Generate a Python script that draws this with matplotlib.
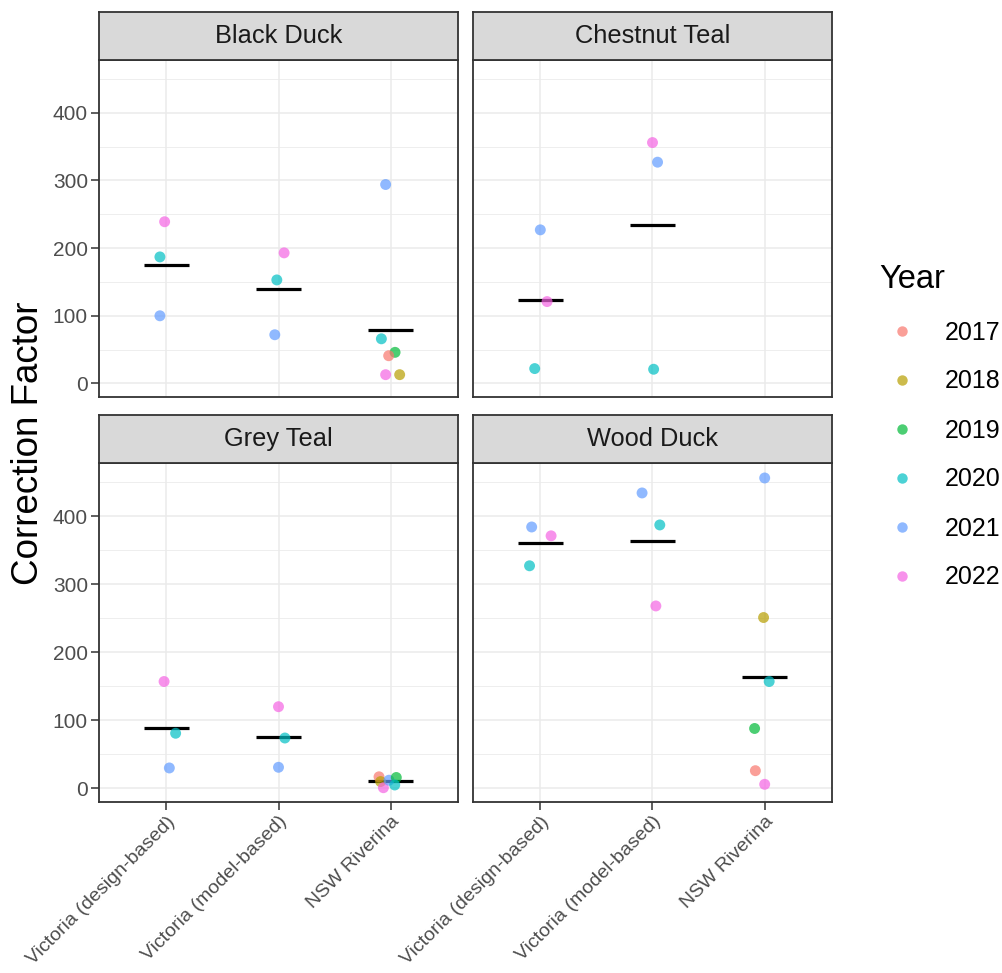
import numpy as np
import matplotlib.pyplot as plt
from matplotlib.lines import Line2D

plt.rcParams['font.family'] = ['Liberation Sans', 'DejaVu Sans']

species = ['Black Duck', 'Chestnut Teal', 'Grey Teal', 'Wood Duck']
regions = ['Victoria (design-based)', 'Victoria (model-based)', 'NSW Riverina']
years = [2017, 2018, 2019, 2020, 2021, 2022]
year_colours = ['#F8766D', '#B79F00', '#00BA38', '#00BFC4', '#619CFF', '#F564E3']

# region index (0,1,2), survey year, correction factor and jitter
black_duck_region = [0, 0, 0, 1, 1, 1, 2, 2, 2, 2, 2, 2]
black_duck_year = [2022, 2020, 2021, 2022, 2020, 2021, 2021, 2020, 2019, 2017, 2022, 2018]
black_duck_value = [239, 187, 100, 193, 153, 72, 294, 66, 46, 41, 13, 13]
black_duck_jitter = [-0.015, -0.057, -0.057, 0.05, -0.015, -0.033, -0.045, -0.083, 0.039, -0.018, -0.045, 0.08]

chestnut_teal_region = [0, 0, 0, 1, 1, 1]
chestnut_teal_year = [2021, 2022, 2020, 2022, 2021, 2020]
chestnut_teal_value = [227, 121, 22, 356, 327, 21]
chestnut_teal_jitter = [0.0, 0.06, -0.05, 0.0, 0.045, 0.01]

grey_teal_region = [0, 0, 0, 1, 1, 1, 2, 2, 2, 2, 2, 2]
grey_teal_year = [2022, 2020, 2021, 2022, 2020, 2021, 2017, 2018, 2022, 2021, 2019, 2020]
grey_teal_value = [157, 81, 30, 120, 74, 31, 17, 10, 1, 12, 16, 5]
grey_teal_jitter = [-0.02, 0.083, 0.027, 0.0, 0.057, 0.0, -0.104, -0.09, -0.065, -0.015, 0.05, 0.036]

wood_duck_region = [0, 0, 0, 1, 1, 1, 2, 2, 2, 2, 2, 2]
wood_duck_year = [2021, 2022, 2020, 2021, 2020, 2022, 2021, 2018, 2020, 2019, 2017, 2022]
wood_duck_value = [384, 371, 327, 434, 387, 268, 456, 251, 157, 88, 26, 6]
wood_duck_jitter = [-0.077, 0.096, -0.096, -0.093, 0.065, 0.03, 0.0, -0.01, 0.04, -0.09, -0.083, 0.0]

panels = [
    (black_duck_region, black_duck_year, black_duck_value, black_duck_jitter),
    (chestnut_teal_region, chestnut_teal_year, chestnut_teal_value, chestnut_teal_jitter),
    (grey_teal_region, grey_teal_year, grey_teal_value, grey_teal_jitter),
    (wood_duck_region, wood_duck_year, wood_duck_value, wood_duck_jitter),
]

W, H = 1003, 973
fig = plt.figure(figsize=(W / 100, H / 100), dpi=100)

panel_left = [99, 473]
panel_w = 359
panel_top = [60, 463]
panel_h = [337, 339]
strip_h = 48
edge = '#333333'
colour_of = dict(zip(years, year_colours))

for i, name in enumerate(species):
    col, row = i % 2, i // 2
    x0, top, h = panel_left[col], panel_top[row], panel_h[row]
    ax = fig.add_axes([x0 / W, 1 - (top + h) / H, panel_w / W, h / H])
    reg, yr, val, jit = panels[i]
    reg = np.array(reg)
    val = np.array(val, dtype=float)

    ax.scatter(reg + 1 + np.array(jit), val, c=[colour_of[y] for y in yr],
               s=62, alpha=0.7, edgecolors='none', zorder=4)
    for r in np.unique(reg):
        m = val[reg == r].mean()
        ax.hlines(m, r + 1 - 0.2, r + 1 + 0.2, color='black', lw=2.3, zorder=3)

    ax.set_xlim(0.4, 3.6)
    ax.set_ylim(-20, 478)
    ax.set_xticks([1, 2, 3])
    ax.set_yticks([0, 100, 200, 300, 400])
    ax.set_yticks([50, 150, 250, 350, 450], minor=True)
    ax.grid(which='major', color='#EBEBEB', lw=1.1, zorder=0)
    ax.grid(which='minor', axis='y', color='#EBEBEB', lw=0.6, zorder=0)
    ax.set_axisbelow(True)
    ax.tick_params(which='major', length=5.5, width=1.1, color=edge,
                   labelsize=15, labelcolor='#4D4D4D', pad=2.5)
    ax.tick_params(which='minor', length=0)
    for s in ax.spines.values():
        s.set_color(edge)
        s.set_linewidth(1.3)
    if row == 1:
        ax.set_xticklabels(regions, rotation=45, ha='right',
                           rotation_mode='anchor', fontsize=14)
    else:
        ax.tick_params(axis='x', length=0, labelbottom=False)
    if col == 1:
        ax.tick_params(axis='y', length=0, labelleft=False)

    sax = fig.add_axes([x0 / W, 1 - top / H, panel_w / W, strip_h / H])
    sax.set_facecolor('#D9D9D9')
    sax.set_xticks([])
    sax.set_yticks([])
    for s in sax.spines.values():
        s.set_color(edge)
        s.set_linewidth(1.3)
    sax.text(0.5, 0.5, name, ha='center', va='center', fontsize=18.3,
             color='#1A1A1A', transform=sax.transAxes)

fig.text(29 / W, 1 - 443 / H, 'Correction Factor', rotation=90, ha='center',
         va='center', fontsize=26.5)

handles = [Line2D([], [], ls='none', marker='o', ms=7.5, color=c, alpha=0.7,
                  markeredgewidth=0) for c in year_colours]
fig.legend(handles, [str(y) for y in years], title='Year', loc='upper left',
           bbox_to_anchor=(867 / W, 1 - 252 / H), frameon=False, fontsize=18,
           title_fontsize=23.5, labelspacing=1.0, handlelength=1.8,
           handletextpad=0.8, borderpad=0, alignment='left')

fig.savefig('out.png', dpi=100)
